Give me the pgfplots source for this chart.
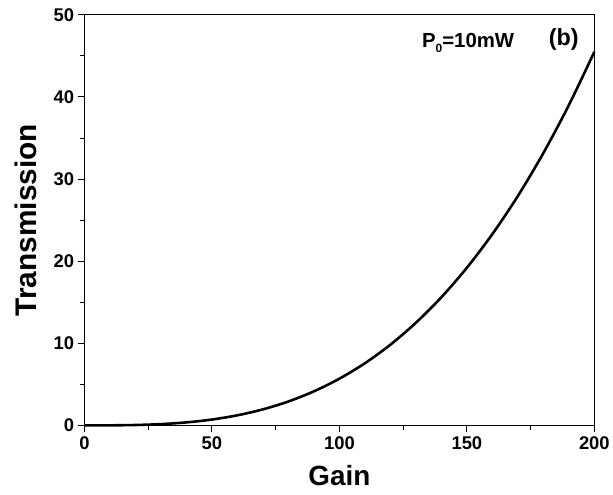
\documentclass[border=0pt]{standalone}
\usepackage{fontspec}
\setmainfont{Liberation Sans}
\usepackage{pgfplots}
\pgfplotsset{compat=1.18}
\begin{document}
\begin{tikzpicture}
\begin{axis}[
  scale only axis,
  width=513pt, height=413pt,
  xmin=0, xmax=200, ymin=0, ymax=50,
  xtick={0,50,100,150,200},
  ytick={0,10,20,30,40,50},
  minor x tick num=1,
  minor y tick num=1,
  axis line style={line width=1.2pt},
  every tick/.style={black, line width=1pt},
  tick align=outside,
  xtick pos=bottom, ytick pos=left,
  major tick length=7pt,
  minor tick length=4.5pt,
  /pgf/number format/assume math mode=true,
  ticklabel style={font=\bfseries\fontsize{18.5}{18.5}\selectfont},
  xticklabel style={yshift=-1pt},
  xlabel={Gain},
  ylabel={Transmission},
  xlabel style={font=\bfseries\fontsize{28}{28}\selectfont, yshift=-9pt},
  ylabel style={font=\bfseries\fontsize{30}{30}\selectfont, yshift=10pt},
  clip=false,
]
\addplot[black, line width=2.6pt, smooth] coordinates {
(0,0) (10,0.0057) (20,0.0455) (30,0.154) (40,0.364) (50,0.711) (60,1.229)
(70,1.951) (80,2.912) (90,4.147) (100,5.688) (110,7.570) (120,9.828)
(130,12.50) (140,15.61) (150,19.20) (160,23.30) (170,27.94) (180,33.17)
(190,39.01) (200,45.5)
};
\node[font=\bfseries\fontsize{20.5}{20.5}\selectfont] at (axis cs:150.5,46.6) {P\raisebox{-0.45ex}{\fontsize{12}{12}\selectfont 0}=10mW};
\node[font=\bfseries\fontsize{23.5}{23.5}\selectfont] at (axis cs:188,47) {(b)};
\end{axis}
\path (current axis.south west) ++(-85pt,-70pt) coordinate (bl);
\path (current axis.north east) ++(15pt,15pt) coordinate (tr);
\path (bl) rectangle (tr);
\end{tikzpicture}
\end{document}
